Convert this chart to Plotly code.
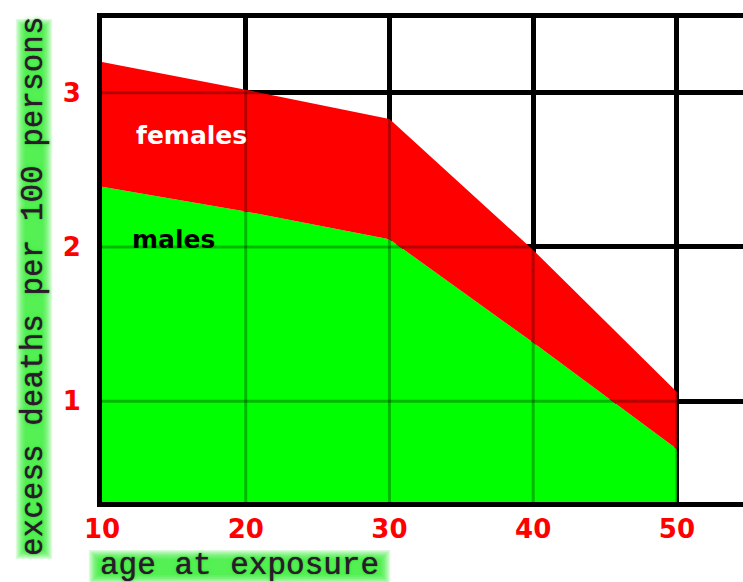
import plotly.graph_objects as go

ages = [10, 20, 30, 40, 50]
males = [2.39, 2.23, 2.05, 1.38, 0.69]
females = [3.20, 3.02, 2.83, 1.98, 1.06]
x_ticks = [10, 20, 30, 40, 50]
y_ticks = [1, 2, 3]
x_range = [10, 54.6]
y_range = [0.346, 3.485]

W, H = 743, 582
L, R, T, B = 102, 0, 18, 80
PW, PH = W - L - R, H - T - B


def px_x(p):
    return (p - L) / PW


def px_y(p):
    return (H - B - p) / PH


fig = go.Figure()
fig.add_trace(go.Scatter(x=ages, y=males, mode="lines", line=dict(width=0, color="#00ff00"),
                         fill="tozeroy", fillcolor="#00ff00", name="males", showlegend=False,
                         hoverinfo="skip"))
fig.add_trace(go.Scatter(x=ages, y=females, mode="lines", line=dict(width=0, color="#ff0000"),
                         fill="tonexty", fillcolor="#ff0000", name="females", showlegend=False,
                         hoverinfo="skip"))

# faint grid seen through the fills
for xv in x_ticks[1:]:
    fig.add_shape(type="line", xref="x", yref="paper", x0=xv, x1=xv, y0=0, y1=1,
                  line=dict(color="rgba(0,0,0,0.28)", width=3), layer="above")
for yv in y_ticks:
    fig.add_shape(type="line", xref="paper", yref="y", x0=0, x1=1, y0=yv, y1=yv,
                  line=dict(color="rgba(0,0,0,0.28)", width=3), layer="above")

# soft green glow bands behind the axis titles
for i in range(8):
    g = 1.3 * i
    fig.add_shape(type="path", xref="paper", yref="paper",
                  path=f"M {px_x(25 - g)},{px_y(550 + g)} L {px_x(43 + g)},{px_y(550 + g)} "
                       f"L {px_x(43 + g)},{px_y(28 - g)} L {px_x(25 - g)},{px_y(28 - g)} Z",
                  fillcolor="#22ee22", opacity=0.16, line=dict(width=0), layer="below")
    fig.add_shape(type="path", xref="paper", yref="paper",
                  path=f"M {px_x(98 - g)},{px_y(575 + g)} L {px_x(381 + g)},{px_y(575 + g)} "
                       f"L {px_x(381 + g)},{px_y(559 - g)} L {px_x(98 - g)},{px_y(559 - g)} Z",
                  fillcolor="#22ee22", opacity=0.16, line=dict(width=0), layer="below")

tickfont = dict(family="DejaVu Sans", size=26, color="#ff0000", weight="bold")
fig.update_xaxes(range=x_range, tickvals=x_ticks, ticktext=[str(v) for v in x_ticks],
                 showgrid=True, gridcolor="black", gridwidth=5, zeroline=False,
                 showline=True, linecolor="black", linewidth=5, mirror=True,
                 ticks="", ticklen=0, tickfont=tickfont, ticklabelstandoff=0, fixedrange=True)
fig.update_yaxes(range=y_range, tickvals=y_ticks, ticktext=[str(v) for v in y_ticks],
                 showgrid=True, gridcolor="black", gridwidth=5, zeroline=False,
                 showline=True, linecolor="black", linewidth=5, mirror=False,
                 ticks="", ticklen=0, tickfont=tickfont, ticklabelstandoff=11, fixedrange=True)

title_font = dict(family="Liberation Mono", size=31, color="#2a1a2a",
                  shadow="0px 0px 1px #2a1a2a, 0px 0px 4px #33ee33")
fig.add_annotation(text="age at exposure", xref="paper", yref="paper", x=px_x(98), y=px_y(565),
                   xanchor="left", yanchor="middle", showarrow=False, font=title_font)
fig.add_annotation(text="excess deaths per 100 persons", xref="paper", yref="paper",
                   x=px_x(34), y=px_y(286), xanchor="center", yanchor="middle", textangle=-90,
                   showarrow=False, font=title_font)

fig.add_annotation(text="females", x=16.2, y=2.72, xref="x", yref="y", showarrow=False,
                   font=dict(family="DejaVu Sans", size=25, color="white", weight="bold"))
fig.add_annotation(text="males", x=15.0, y=2.05, xref="x", yref="y", showarrow=False,
                   font=dict(family="DejaVu Sans", size=25, color="black", weight="bold"))

fig.update_layout(width=W, height=H, margin=dict(l=L, r=R, t=T, b=B, autoexpand=False),
                  paper_bgcolor="white", plot_bgcolor="white", showlegend=False)

fig.write_html("out.html", config={"displayModeBar": False},
               post_script="document.body.style.margin='0px';document.body.style.overflow='hidden';")
